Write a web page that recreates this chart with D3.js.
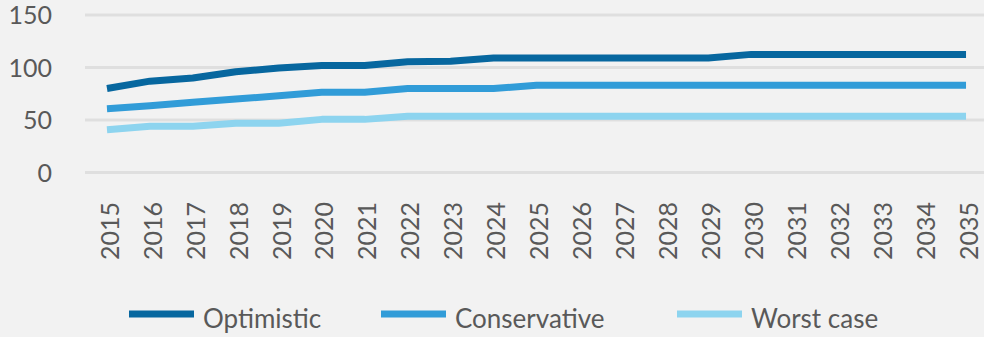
<!DOCTYPE html>
<html><head><meta charset="utf-8">
<script src="https://cdn.jsdelivr.net/npm/d3@7/dist/d3.min.js"></script>
<style>
html,body{margin:0;padding:0;background:#f2f2f2;}
svg{display:block;font-family:Lato,"Noto Sans",sans-serif;}
</style></head>
<body>
<svg id="chart" width="984" height="337"></svg>
<script>
const years = ["2015","2016","2017","2018","2019","2020","2021","2022","2023","2024","2025","2026","2027","2028","2029","2030","2031","2032","2033","2034","2035"];
const optimistic   = [80, 87, 90, 96, 99.5, 102, 102, 105.5, 106, 109, 109, 109, 109, 109, 109, 112.5, 112.5, 112.5, 112.5, 112.5, 112.5];
const conservative = [60.8, 63.6, 67, 70, 73, 76.4, 76.4, 80, 80, 80, 83, 83, 83, 83, 83, 83, 83, 83, 83, 83, 83];
const worstCase    = [40.8, 44, 44, 47, 47, 50.6, 50.6, 53.5, 53.5, 53.5, 53.5, 53.5, 53.5, 53.5, 53.5, 53.5, 53.5, 53.5, 53.5, 53.5, 53.5];
const yTicks = [0, 50, 100, 150];
const seriesNames = ["Optimistic", "Conservative", "Worst case"];
const seriesColors = ["#07679f", "#319cd8", "#8dd4ef"];

const svg = d3.select("#chart");
const x = d3.scalePoint().domain(years).range([85.5, 987.5]).padding(0.5);
const y = d3.scaleLinear().domain([0, 150]).range([172.5, 15]);

// gridlines
svg.append("g").selectAll("line").data(yTicks).join("line")
  .attr("x1", 85).attr("x2", 984)
  .attr("y1", d => y(d)).attr("y2", d => y(d))
  .attr("stroke", "#dfdfdf").attr("stroke-width", 3);

// y labels
svg.append("g").selectAll("text").data(yTicks).join("text")
  .attr("x", 52).attr("y", d => y(d)).attr("dy", "0.37em")
  .attr("text-anchor", "end").attr("font-size", 25).attr("fill", "#595959")
  .text(d => d);

// x labels
svg.append("g").selectAll("text").data(years).join("text")
  .attr("transform", d => `translate(${x(d) + 3},202) rotate(-90)`)
  .attr("dy", "0.35em").attr("text-anchor", "end")
  .attr("font-size", 25).attr("fill", "#595959")
  .text(d => d);

// lines
const data = [optimistic, conservative, worstCase];
const line = d3.line().x((d, i) => x(years[i])).y(d => y(d));
svg.append("g").selectAll("path").data(data.slice().reverse()).join("path")
  .attr("d", line).attr("fill", "none")
  .attr("stroke", (d, i) => seriesColors[2 - i]).attr("stroke-width", 7)
  .attr("stroke-linejoin", "round");

// legend
const legendX = [129, 381, 677];
const lg = svg.append("g").selectAll("g").data(seriesNames).join("g")
  .attr("transform", (d, i) => `translate(${legendX[i]},314)`);
lg.append("rect").attr("x", 0).attr("y", -3.5).attr("width", 65).attr("height", 7)
  .attr("fill", (d, i) => seriesColors[i]);
lg.append("text").attr("x", 74).attr("y", 0).attr("dy", "0.55em")
  .attr("font-size", 26).attr("fill", "#595959").text(d => d);
</script>
</body></html>
